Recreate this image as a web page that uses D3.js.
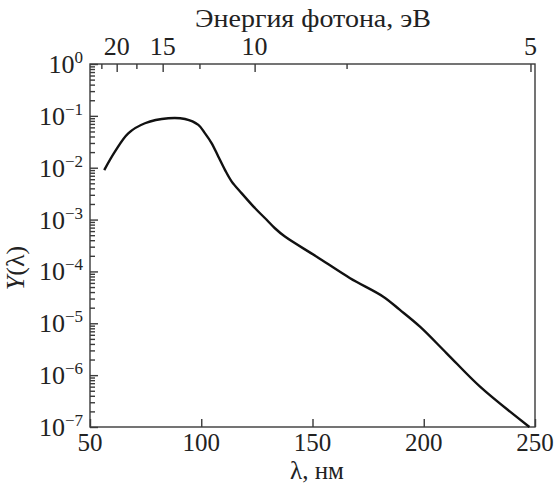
<!DOCTYPE html>
<html><head><meta charset="utf-8">
<script src="https://cdn.jsdelivr.net/npm/d3@7"></script>
<style>
body{margin:0;background:#fff;}
svg{display:block;font-family:"Liberation Serif","Times New Roman",serif;}
.axis path,.axis line{stroke:#3a3a3a;stroke-width:1.4;}
</style></head>
<body><svg id="c" width="555" height="486"></svg>
<script>
const wavelength = [56.4, 61.2, 67.2, 74.7, 85.2, 92.7, 98.7, 101.7, 104.7, 107.7, 110.7, 113.7, 118.2, 124.2, 128.7, 133.1, 137.6, 151.9, 166.9, 181.8, 189.3, 198.3, 210.3, 225.3, 247.5];
const yieldY = [9.0e-3, 2.04e-2, 4.6e-2, 7.2e-2, 9.0e-2, 8.7e-2, 6.7e-2, 4.6e-2, 2.96e-2, 1.63e-2, 9.0e-3, 5.4e-3, 3.2e-3, 1.65e-3, 1.06e-3, 6.8e-4, 4.7e-4, 1.92e-4, 7.4e-5, 3.26e-5, 1.81e-5, 8.6e-6, 2.64e-6, 6.0e-7, 1.0e-7];
const xTicks = [50, 100, 150, 200, 250];
const yExponents = [0, -1, -2, -3, -4, -5, -6, -7];
const energyMajor = [20, 15, 10, 5];
const energyMinor = [22.5, 17.5, 12.5, 7.5];
const HC = 1239.84; // eV*nm

const svg = d3.select("#c");
const L = 90, R = 535, T = 64, B = 427;
const x = d3.scaleLinear().domain([50, 250]).range([L, R]);
const y = d3.scaleLog().domain([1e-7, 1]).range([B, T]);
const txt = "#222";
const FS = 26;

// frame
svg.append("rect").attr("x", L).attr("y", T).attr("width", R - L).attr("height", B - T)
  .attr("fill", "none").attr("stroke", "#3a3a3a").attr("stroke-width", 1.4);

// bottom axis
const gx = svg.append("g").attr("class", "axis").attr("transform", `translate(0,${B})`)
  .call(d3.axisBottom(x).tickValues(xTicks).tickSizeInner(-8).tickSizeOuter(0).tickFormat(""));
gx.select(".domain").remove();
svg.append("g").selectAll("text").data(xTicks).join("text")
  .attr("x", d => x(d)).attr("y", 451).attr("text-anchor", "middle")
  .attr("font-size", 25).attr("fill", txt).text(d => d);

// left axis: minor ticks
const minors = [];
yExponents.slice(1).forEach(e => { for (let k = 2; k <= 9; k++) minors.push(k * Math.pow(10, e)); });
const gyMin = svg.append("g").attr("class", "axis").attr("transform", `translate(${L},0)`)
  .call(d3.axisLeft(y).tickValues(minors).tickSizeInner(-5).tickSizeOuter(0).tickFormat(""));
gyMin.select(".domain").remove();
gyMin.selectAll("line").attr("stroke-width", 1.1);
const majors = yExponents.map(e => Math.pow(10, e));
const gyMaj = svg.append("g").attr("class", "axis").attr("transform", `translate(${L},0)`)
  .call(d3.axisLeft(y).tickValues(majors).tickSizeInner(-8).tickSizeOuter(0).tickFormat(""));
gyMaj.select(".domain").remove();
const ylab = svg.append("g").selectAll("text").data(yExponents).join("text")
  .attr("x", 83).attr("y", d => y(Math.pow(10, d)) + 9).attr("text-anchor", "end")
  .attr("font-size", FS).attr("fill", txt);
ylab.append("tspan").text("10");
ylab.append("tspan").attr("font-size", 17).attr("dy", -10)
  .text(d => d === 0 ? "0" : "\u2212" + Math.abs(d));

// top axis (photon energy)
const gtMaj = svg.append("g").attr("class", "axis").attr("transform", `translate(0,${T})`)
  .call(d3.axisTop(x).tickValues(energyMajor.map(e => HC / e)).tickSizeInner(-8).tickSizeOuter(0).tickFormat(""));
gtMaj.select(".domain").remove();
const gtMin = svg.append("g").attr("class", "axis").attr("transform", `translate(0,${T})`)
  .call(d3.axisTop(x).tickValues(energyMinor.map(e => HC / e)).tickSizeInner(-5).tickSizeOuter(0).tickFormat(""));
gtMin.select(".domain").remove();
gtMin.selectAll("line").attr("stroke-width", 1.1);
svg.append("g").selectAll("text").data(energyMajor).join("text")
  .attr("x", d => x(HC / d)).attr("y", 55).attr("text-anchor", "middle")
  .attr("font-size", FS).attr("fill", txt).text(d => d);

// titles
svg.append("text").attr("x", 313).attr("y", 27).attr("text-anchor", "middle")
  .attr("font-size", FS).attr("fill", txt)
  .attr("textLength", 236).attr("lengthAdjust", "spacingAndGlyphs")
  .text("Энергия фотона, эВ");
svg.append("text").attr("x", 317).attr("y", 479).attr("text-anchor", "middle")
  .attr("font-size", 25).attr("fill", txt).text("λ, нм");
const yt = svg.append("text").attr("transform", "translate(24,268) rotate(-90)")
  .attr("text-anchor", "middle").attr("font-size", FS).attr("fill", txt);
yt.append("tspan").attr("font-style", "italic").text("Y");
yt.append("tspan").text("(λ)");

// curve
const pts = wavelength.map((w, i) => [w, yieldY[i]]);
svg.append("path").datum(pts)
  .attr("fill", "none").attr("stroke", "#111").attr("stroke-width", 2.4)
  .attr("d", d3.line().x(d => x(d[0])).y(d => y(d[1])).curve(d3.curveCatmullRom.alpha(0.5)));
</script></body></html>
